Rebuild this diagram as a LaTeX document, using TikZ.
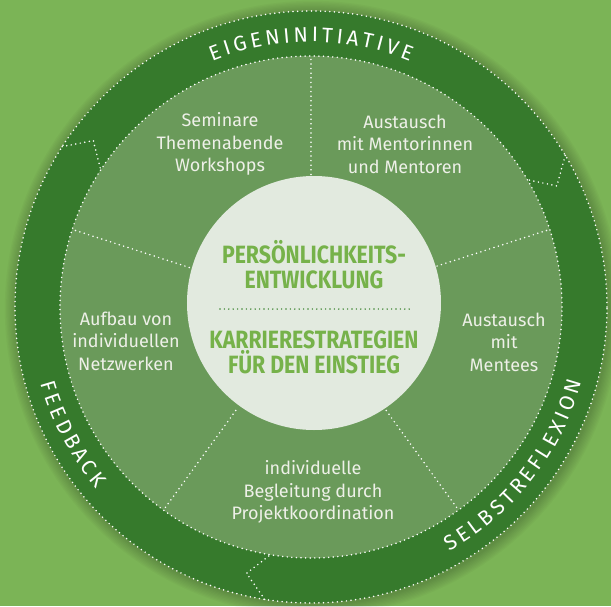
\documentclass[tikz,border=0pt]{standalone}
\usepackage{fontspec}
\setsansfont{Fira Sans}
\newfontfamily\ringfont{Fira Sans}
\newfontfamily\kernfont[FakeStretch=0.85]{Fira Sans}
\usetikzlibrary{positioning, calc}
\usetikzlibrary{decorations.text}
\definecolor{bggreen}{HTML}{7BB456}
\definecolor{ringgreen}{HTML}{367A2C}
\definecolor{diskgreen}{HTML}{6A9A5A}
\definecolor{kerngrey}{HTML}{E2EADF}
\definecolor{kerntext}{HTML}{76B24A}
\definecolor{kerndot}{HTML}{3F8633}
\definecolor{sectortext}{HTML}{EEF0E8}
\tikzstyle{dotline}=[white, line width=1.7pt, line cap=round, dash pattern=on 0pt off 4.6pt]
\tikzstyle{kerndots}=[kerndot, line width=1.6pt, line cap=round, dash pattern=on 0pt off 4.4pt]
\tikzstyle{sectorbox}=[align=center, text=sectortext, inner sep=0pt,
font=\sffamily\fontsize{18}{22.5}\selectfont]
\tikzstyle{kernbox}=[align=center, text=kerntext, inner sep=0pt,
font=\kernfont\bfseries\fontsize{25}{25}\selectfont]
\tikzstyle{ringtext}=[decorate, font=\ringfont\fontsize{21}{21}\selectfont,
decoration={text effects along path, text={#1},
text align=center, text effects/.cd, text along path,
characters={text=white, font=\ringfont\fontsize{21}{21}\selectfont},
character widths={inner xsep=1.8pt}}]

\begin{document}
\begin{tikzpicture}[x=1pt, y=1pt]
    \useasboundingbox (-311,-299) rectangle (300,307);
    \fill[bggreen] (-311,-299) rectangle (300,307);
    \coordinate (m) at (0,0);
    % soft shadow round the ring
    \foreach \i in {1,...,9}
        \fill[black, opacity=0.022] ($(m)+(1.5,-1.5)$) circle (296+\i*1.3);
    % ring and inner disk
    \fill[ringgreen] (m) circle (296);
    \fill[diskgreen] (m) circle (251);
    \draw[dotline] (m) circle (296);
    \draw[dotline] (m) circle (251);
    % arrow heads in the ring
    \foreach \a in {147.2, 30.8, 261}
        \draw[dotline] ($(m)+(\a:296)$) -- ($(m)+(\a-4.6:274)$) -- ($(m)+(\a-0.3:251)$);
    % sector borders
    \foreach \a in {90, 162, 234, 306, 18}
        \draw[dotline] ($(m)+(\a:128)$) -- ($(m)+(\a:251)$);
    % centre
    \coordinate (k) at (3,4);
    \fill[kerngrey] (k) circle (127);

    \node[kernbox] (persoenlich) at (3,42) {PERSÖNLICHKEITS-\\ENTWICKLUNG};
    \node[kernbox] (karriere) at (3,-45) {KARRIERESTRATEGIEN\\FÜR DEN EINSTIEG};
    \coordinate (trennA) at (-91,-2);
    \coordinate (trennB) at (102,-2);
    \draw[kerndots] (trennA) -- (trennB);

    \node[sectorbox] (seminare) at (-91,163) {Seminare\\Themenabende\\Workshops};
    \node[sectorbox] (mentoren) at (94,163) {Austausch\\mit Mentorinnen\\und Mentoren};
    \node[sectorbox] (mentees) at (193,-35) {Austausch\\mit\\Mentees};
    \node[sectorbox] (begleitung) at (2,-185) {individuelle\\Begleitung durch\\Projektkoordination};
    \node[sectorbox] (netzwerk) at (-185,-34) {Aufbau von\\individuellen\\Netzwerken};

    % ring labels
    \path[ringtext=EIGENINITIATIVE] ($(m)+(150:265)$) arc[start angle=150, end angle=30, radius=265];
    \path[ringtext=SELBSTREFLEXION] ($(m)+(-95:281)$) arc[start angle=-95, end angle=19, radius=281];
    \path[ringtext=FEEDBACK] ($(m)+(158:281)$) arc[start angle=158, end angle=258, radius=281];
\end{tikzpicture}
\end{document}
